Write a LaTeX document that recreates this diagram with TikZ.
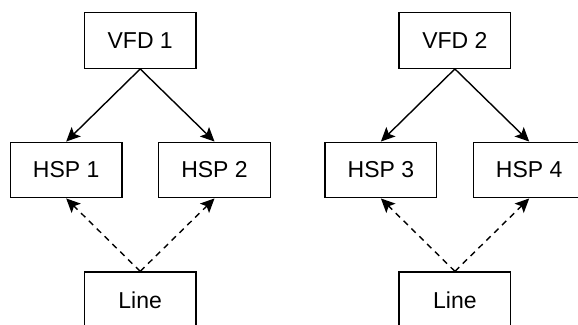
\documentclass[tikz,border=0pt]{standalone}
\usepackage{fontspec}
\setmainfont{Liberation Sans}
\usetikzlibrary{arrows.meta}
\begin{document}
\begin{tikzpicture}[x=1pt,y=-1pt,
  box/.style={draw,line width=1.4pt,minimum width=111.5pt,minimum height=55.5pt,inner sep=0pt,
    font=\fontsize{23}{27}\selectfont},
  solidarrow/.style={line width=1.4pt,-{Stealth[length=14pt,width=13pt,inset=3pt]}},
  dasharrow/.style={line width=1.4pt,dash pattern=on 6pt off 5pt,-{Stealth[length=14pt,width=13pt,inset=3pt]}}]
\clip (0,0) rectangle (578,324);
\useasboundingbox (0,0) rectangle (578,324);
\foreach \dx/\a/\b/\c/\v in {0/1/1/2/1, 314.7/2/3/4/2}{
  \begin{scope}[xshift=\dx pt]
  \node[box] (vfd\v) at (140.2,40.5) {VFD \v};
  \node[box] (hsp\b) at (66.2,170) {HSP \b};
  \node[box] (hsp\c) at (214.5,170) {HSP \c};
  \node[box] (line\v) at (140.2,299.8) {Line};
  \draw[solidarrow] (vfd\v.south) -- (hsp\b.north);
  \draw[solidarrow] (vfd\v.south) -- (hsp\c.north);
  \draw[dasharrow] (line\v.north) -- (hsp\b.south);
  \draw[dasharrow] (line\v.north) -- (hsp\c.south);
  \end{scope}
}
\end{tikzpicture}
\end{document}
